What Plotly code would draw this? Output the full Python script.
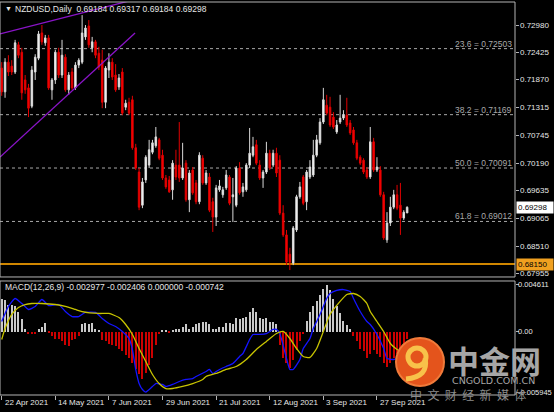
import plotly.graph_objects as go

# NZDUSD daily bars, 22 Apr 2021 .. 8 Oct 2021 (bar index 0..121)
open_ = [
    .7211, .7163, .7223, .7215, .7203, .7258, .7243, .7187, .7171, .7134,
    .7203, .7231, .7282, .7262, .7272, .7167, .7187, .7243, .7197, .7233,
    .7167, .7203, .7171, .7217, .7223, .7274, .7296, .7252, .7264, .7241,
    .7227, .7142, .7207, .7223, .7197, .7173, .7203, .7132, .7142, .7147,
    .7050, .7001, .6934, .6985, .7015, .7041, .7054, .7066, .7035, .6989,
    .6985, .6965, .7015, .7015, .6989, .7019, .6945, .7005, .6979, .6941,
    .7029, .6979, .6991, .6941, .6910, .6965, .6955, .6969, .6991, .6951,
    .6934, .7009, .6961, .6965, .7015, .7035, .7056, .7015, .6989, .7001,
    .7039, .7015, .7039, .7025, .6918, .6874, .6835, .6817, .6884, .6951,
    .6991, .6941, .6991, .6995, .7035, .7060, .7102, .7136, .7132, .7112,
    .7082, .7102, .7110, .7116, .7100, .7086, .7060, .7031, .7025, .7005,
    .6991, .7062, .7005, .7005, .6955, .6864, .6898, .6930, .6955, .6934,
    .6908, .69184]
high = [
    .7223, .7231, .7237, .7227, .7268, .7264, .7252, .7197, .7179, .7215,
    .7239, .7286, .7298, .7278, .7278, .7191, .7248, .7252, .7268, .7239,
    .7203, .7211, .7223, .7231, .7318, .7298, .7308, .7274, .7268, .7254,
    .7248, .7215, .7241, .7231, .7219, .7199, .7211, .7147, .7151, .7155,
    .7058, .7009, .6989, .7035, .7066, .7066, .7092, .7070, .7046, .6995,
    .6993, .7025, .7046, .7102, .7060, .7025, .7005, .7011, .6985, .7041,
    .7035, .7005, .6999, .6949, .6975, .6985, .6971, .7005, .6995, .6989,
    .7013, .7021, .6979, .7019, .7090, .7072, .7066, .7025, .7005, .7062,
    .7046, .7046, .7050, .7035, .6934, .6884, .6848, .6892, .6955, .6981,
    .6995, .7005, .7025, .7066, .7076, .7110, .7171, .7157, .7153, .7122,
    .7106, .7157, .7126, .7151, .7106, .7092, .7066, .7035, .7029, .7011,
    .7092, .7070, .7031, .7013, .6961, .6920, .6951, .6965, .6975, .6979,
    .6924, .69317]
low = [
    .7155, .7151, .7195, .7197, .7199, .7231, .7147, .7159, .7112, .7130,
    .7187, .7227, .7258, .7256, .7167, .7147, .7179, .7191, .7191, .7163,
    .7157, .7167, .7167, .7211, .7219, .7268, .7252, .7243, .7231, .7207,
    .7130, .7130, .7191, .7187, .7163, .7167, .7116, .7126, .7116, .7046,
    .7005, .6924, .6928, .6979, .7009, .7037, .7050, .7025, .6985, .6967,
    .6959, .6945, .6985, .6981, .6985, .6941, .6920, .6955, .6936, .6936,
    .6975, .6975, .6920, .6880, .6892, .6961, .6949, .6965, .6934, .6900,
    .6930, .6955, .6951, .6961, .7009, .7031, .7015, .6985, .6969, .6997,
    .7005, .7011, .6991, .6914, .6870, .6813, .6803, .6813, .6880, .6947,
    .6934, .6924, .6987, .6991, .7031, .7056, .7098, .7116, .7092, .7088,
    .7078, .7098, .7106, .7092, .7076, .7056, .7025, .7015, .6997, .6987,
    .6987, .7001, .7001, .6951, .6864, .6858, .6892, .6926, .6924, .6874,
    .6904, .69184]
close = [
    .7163, .7223, .7203, .7203, .7262, .7237, .7161, .7167, .7130, .7207,
    .7233, .7280, .7264, .7272, .7171, .7187, .7243, .7197, .7237, .7167,
    .7197, .7171, .7217, .7227, .7282, .7292, .7258, .7264, .7237, .7213,
    .7142, .7211, .7223, .7193, .7167, .7191, .7120, .7140, .7120, .7050,
    .7009, .6930, .6981, .7031, .7046, .7060, .7072, .7029, .6989, .6971,
    .6961, .7019, .6991, .6989, .7009, .6945, .6999, .6959, .6941, .7035,
    .6979, .6999, .6924, .6910, .6969, .6973, .6965, .6995, .6938, .6955,
    .7009, .6959, .6971, .7015, .7039, .7052, .7019, .6989, .7001, .7039,
    .7009, .7039, .6999, .6918, .6874, .6819, .6819, .6888, .6951, .6971,
    .6938, .7001, .7011, .7035, .7066, .7102, .7147, .7120, .7096, .7092,
    .7096, .7110, .7116, .7096, .7080, .7060, .7029, .7019, .7001, .6991,
    .7062, .7005, .7011, .6955, .6868, .6898, .6930, .6955, .6928, .6908,
    .6920, .69298]

# MACD(12,26,9) histogram, one value per bar
hist = [
    .00324, .00314, .00265, .00265, .00246, .00196, .00118, .00029, -.00029, -.00029,
    -.00020, .00029, .00049, .00079, -.00010, -.00049, -.00069, -.00069, -.00098, -.00128,
    -.00147, -.00079, -.00069, -.00049, .00069, .00079, .00069, .00079, .00029, .00010,
    -.00079, -.00098, -.00118, -.00128, -.00147, -.00167, -.00196, -.00226, -.00265, -.00314,
    -.00373, -.00422, -.00462, -.00412, -.00324, -.00265, -.00128, -.00020, .00010, .00010,
    -.00010, .00010, .00020, .00029, .00049, .00069, .00029, .00049, .00069, .00079,
    .00098, .00098, .00069, .00020, .00029, .00049, .00049, .00079, .00079, .00069,
    .00128, .00118, .00128, .00147, .00196, .00226, .00196, .00128, .00118, .00128,
    .00098, .00098, .00069, -.00128, -.00265, -.00314, -.00363, -.00275, -.00177, -.00098,
    -.00029, .00108, .00187, .00255, .00304, .00363, .00422, .004611, .00403, .00324,
    .00246, .00177, .00108, .00059, .00020, -.00049, -.00098, -.00167, -.00196, -.00265,
    -.00216, -.00177, -.00216, -.00246, -.00314, -.00344, -.00314, -.00265, -.00216, -.00167,
    -.00118, -.000742]

# MACD main line (blue), read at these bars
macd_bar = [0, 2, 4, 6, 8, 10, 12, 14, 17, 19, 21, 23, 25, 28, 30, 32, 34, 36, 38, 39,
            40, 41, 42, 43, 45, 46, 48, 49, 51, 53, 55, 57, 58, 61, 62, 63, 65, 67, 69, 71,
            72, 74, 75, 77, 79, 81, 82, 83, 85, 86, 87, 89, 90, 92, 93, 95, 97, 98, 100, 102,
            104, 105, 107, 109, 110, 112, 114, 115, 117, 118, 121]
macd_val = [.00098, .00246, .00324, .00275, .00216, .00246, .00314, .00255, .00265, .00196,
            .00147, .00147, .00187, .00187, .00128, .00079, .00049, 0.0, -.00069, -.00177,
            -.00373, -.00511, -.00570, -.005945, -.00540, -.00511, -.00520, -.00540, -.00520, -.00491,
            -.00471, -.00462, -.00442, -.00393, -.00373, -.00412, -.00373, -.00344, -.00314, -.00246,
            -.00216, -.00079, -.00029, -.00029, -.00020, .00020, .00020, -.00020, -.00265, -.00373,
            -.00373, -.00275, -.00167, -.00069, .00029, .00167, .00324, .00373, .00403, .00412,
            .00393, .00324, .00196, .00098, .00069, -.00029, -.00167, -.00265, -.00275, -.00265,
            -.002977]

# signal line (yellow), read at these bars
signal_bar = [0, 1, 3, 5, 7, 9, 12, 16, 19, 22, 24, 29, 32, 35, 37, 39, 41, 43, 45, 47,
              49, 51, 54, 57, 60, 61, 64, 67, 70, 73, 76, 79, 82, 84, 86, 88, 90, 92, 94, 96,
              98, 101, 103, 105, 107, 109, 110, 112, 114, 116, 118, 121]
signal_val = [-.00079, .00029, .00167, .00236, .00265, .00275, .00275, .00265, .00246, .00216,
              .00196, .00177, .00177, .00137, .00069, -.00029, -.00167, -.00295, -.00422, -.00511,
              -.00560, -.00560, -.00540, -.00511, -.00471, -.00442, -.00412, -.00373, -.00344, -.00275,
              -.00177, -.00098, -.00020, 0.0, -.00069, -.00167, -.00246, -.00255, -.00167, 0.0,
              .00167, .00295, .00363, .00373, .00344, .00275, .00196, .00098, 0.0, -.00118,
              -.00177, -.002406]

date_bars = [0, 16, 32, 48, 64, 80, 96, 112]
date_text = ["22 Apr 2021", "14 May 2021", "7 Jun 2021", "29 Jun 2021",
             "21 Jul 2021", "12 Aug 2021", "3 Sep 2021", "27 Sep 2021"]
price_ticks = [0.72980, 0.72425, 0.71870, 0.71315, 0.70745,
               0.70190, 0.69635, 0.69065, 0.68510, 0.67955]
macd_ticks = [0.004611, 0.0, -0.005945]
macd_tick_text = ["0.004611", "0.00", "-0.005945"]

fib_level = ["23.6", "38.2", "50.0", "61.8"]
fib_price = [0.72503, 0.71169, 0.70091, 0.69012]
support = 0.68150
last_price = 0.69298

# purple channel lines, anchor points (bar, price)
trend_hi_bar = [-0.5, 40.0]
trend_hi_px = [0.7280, 0.7350]
trend_lo_bar = [-0.5, 39.8]
trend_lo_px = [0.70313, 0.72818]

FONT = "Liberation Sans"
TXT = "#E6E6E6"
FRAME = "#B4B4B4"
FS = 8

x_rng = [-0.51, 153.2]
price_dom = [0.3003, 1.0]
macd_dom = [0.0, 0.2901]

bars = list(range(len(close)))

fig = go.Figure()

fig.add_trace(go.Scatter(x=trend_hi_bar, y=trend_hi_px, mode="lines",
                         line=dict(color="#8A14C8", width=1.3), hoverinfo="skip"))
fig.add_trace(go.Scatter(x=trend_lo_bar, y=trend_lo_px, mode="lines",
                         line=dict(color="#8A14C8", width=1.3), hoverinfo="skip"))

fig.add_trace(go.Candlestick(
    x=bars, open=open_, high=high, low=low, close=close,
    increasing=dict(line=dict(color="#D8D8D8", width=1), fillcolor="#FFFFFF"),
    decreasing=dict(line=dict(color="#E00000", width=1), fillcolor="#FF0000"),
    hoverinfo="skip"))

fig.add_trace(go.Bar(
    x=bars, y=hist, width=0.32, xaxis="x2", yaxis="y2",
    marker=dict(color=["#C8C8C8" if v >= 0 else "#CC0000" for v in hist], line=dict(width=0)),
    hoverinfo="skip"))
fig.add_trace(go.Scatter(x=macd_bar, y=macd_val, xaxis="x2", yaxis="y2", mode="lines",
                         line=dict(color="#1414FF", width=1.3, shape="spline", smoothing=0.5),
                         hoverinfo="skip"))
fig.add_trace(go.Scatter(x=signal_bar, y=signal_val, xaxis="x2", yaxis="y2", mode="lines",
                         line=dict(color="#C8C400", width=1.3, shape="spline", smoothing=0.5),
                         hoverinfo="skip"))

shapes = []
for p in fib_price:
    shapes.append(dict(type="line", xref="paper", yref="y", x0=0, x1=1, y0=p, y1=p,
                       line=dict(color="#A8A8A8", width=1, dash="3px,3px"), layer="below"))
shapes.append(dict(type="line", xref="paper", yref="y", x0=0, x1=1, y0=support, y1=support,
                   line=dict(color="#D08600", width=2), layer="below"))
# panel frames
shapes.append(dict(type="rect", xref="paper", yref="paper", x0=0, x1=1,
                   y0=price_dom[0], y1=price_dom[1], line=dict(color=FRAME, width=1)))
shapes.append(dict(type="rect", xref="paper", yref="paper", x0=0, x1=1,
                   y0=macd_dom[0], y1=macd_dom[1], line=dict(color=FRAME, width=1)))


# watermark logo (pixel positions converted to paper)
def px(xp):
    return xp / 515.0


def py(yp):
    return (395.0 - yp) / 393.0


shapes.append(dict(type="circle", xref="paper", yref="paper",
                   x0=px(396), x1=px(444), y0=py(386), y1=py(338),
                   fillcolor="#E4541C", line=dict(color="#F07A3A", width=2)))
shapes.append(dict(type="circle", xref="paper", yref="paper",
                   x0=px(408), x1=px(426), y0=py(366), y1=py(348),
                   line=dict(color="#F8C24A", width=5)))
shapes.append(dict(type="path", xref="paper", yref="paper",
                   path=f"M {px(425)},{py(358)} Q {px(429)},{py(377)} {px(406)},{py(379)}",
                   line=dict(color="#F8C24A", width=5)))

ann = []
ann.append(dict(xref="paper", yref="paper", x=px(3), y=py(9), xanchor="left", yanchor="middle",
                text="▼", showarrow=False, font=dict(family=FONT, size=7, color=TXT)))
ann.append(dict(xref="paper", yref="paper", x=px(13), y=py(9), xanchor="left", yanchor="middle",
                text="NZDUSD,Daily  %.5f %.5f %.5f %.5f" % (open_[-1], high[-1], low[-1], close[-1]),
                showarrow=False, font=dict(family=FONT, size=8.5, color=TXT)))
ann.append(dict(xref="paper", yref="paper", x=px(3), y=py(287), xanchor="left", yanchor="middle",
                text="MACD(12,26,9) -0.002977 -0.002406 0.000000 -0.000742",
                showarrow=False, font=dict(family=FONT, size=8.5, color=TXT)))
for lvl, p in zip(fib_level, fib_price):
    ann.append(dict(xref="paper", yref="y", x=1, y=p, xanchor="right", yanchor="bottom",
                    xshift=-1, yshift=-2, text=f"{lvl} = {p:.5f}", showarrow=False,
                    font=dict(family=FONT, size=8.5, color="#A8A8A8")))
for b, t in zip(date_bars, date_text):
    ann.append(dict(xref="x2", yref="paper", x=b, y=0, xanchor="left", yanchor="top",
                    xshift=1, yshift=-1, text=t, showarrow=False,
                    font=dict(family=FONT, size=FS, color=TXT)))
# right scale labels
for v in price_ticks:
    ann.append(dict(xref="paper", yref="y", x=1, y=v, xanchor="left", yanchor="middle",
                    xshift=3, text="%.5f" % v, showarrow=False,
                    font=dict(family=FONT, size=FS, color=TXT)))
for v, t in zip(macd_ticks, macd_tick_text):
    ann.append(dict(xref="paper", yref="y2", x=1, y=v, xanchor="left", yanchor="middle",
                    xshift=1, text=t, showarrow=False,
                    font=dict(family=FONT, size=7.5, color=TXT)))
ann.append(dict(xref="paper", yref="y", x=1, y=last_price, xanchor="left", yanchor="middle",
                xshift=1, text=f"{last_price:.5f}", showarrow=False, width=34, align="left",
                bgcolor="#FFFFFF", borderpad=1, font=dict(family=FONT, size=FS, color="#000000")))
ann.append(dict(xref="paper", yref="y", x=1, y=support, xanchor="left", yanchor="middle",
                xshift=1, text=f"{support:.5f}", showarrow=False, width=34, align="left",
                bgcolor="#F0A020", borderpad=1, font=dict(family=FONT, size=FS, color="#000000")))
# watermark texts
ann.append(dict(xref="paper", yref="paper", x=px(494), y=py(359), xanchor="center", yanchor="middle",
                text="<b>中金网</b>", showarrow=False,
                font=dict(family="Noto Sans CJK SC", size=31, color="#A6A6A6")))
ann.append(dict(xref="paper", yref="paper", x=px(493), y=py(380), xanchor="center", yanchor="middle",
                text="CNGOLD.COM.CN", showarrow=False,
                font=dict(family="DejaVu Sans", size=9.5, color="#A6A6A6")))
ann.append(dict(xref="paper", yref="paper", x=px(468), y=py(394), xanchor="center", yanchor="middle",
                text="中  文  财  经  新  媒  体", showarrow=False,
                font=dict(family="Noto Sans CJK SC", size=12, color="#8C8C8C")))

fig.update_layout(
    width=554, height=412,
    margin=dict(l=0, r=39, t=2, b=17),
    paper_bgcolor="#000000", plot_bgcolor="#000000",
    showlegend=False, bargap=0, boxgap=0.35,
    shapes=shapes, annotations=ann,
    xaxis=dict(domain=[0, 1], anchor="y", range=x_rng, matches="x2",
               showticklabels=False, showgrid=False, zeroline=False,
               rangeslider=dict(visible=False), fixedrange=True),
    xaxis2=dict(domain=[0, 1], anchor="y2", range=x_rng, showgrid=False, zeroline=False,
                tickvals=date_bars, showticklabels=False, ticks="outside", ticklen=4,
                tickcolor=FRAME),
    yaxis=dict(domain=price_dom, anchor="x", side="right", range=[0.67890, 0.73445],
               tickvals=price_ticks, showticklabels=False,
               ticks="outside", ticklen=3, tickcolor=FRAME, showgrid=False, zeroline=False),
    yaxis2=dict(domain=macd_dom, anchor="x2", side="right", range=[-0.006236, 0.004959],
                tickvals=macd_ticks, showticklabels=False,
                ticks="outside", ticklen=3, tickcolor=FRAME, showgrid=False, zeroline=False),
)

# the page body has a default 8px margin; remove it so the figure sits at 0,0
fig.write_html("out.html", config={"displayModeBar": False},
               post_script="document.body.style.margin='0';document.body.style.padding='0';")
